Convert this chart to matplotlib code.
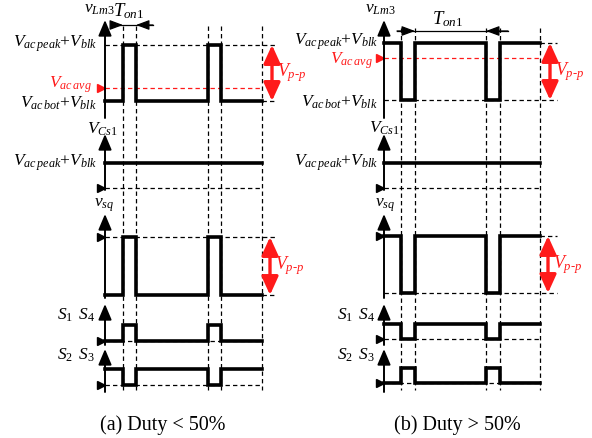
import matplotlib
matplotlib.use("Agg")
import matplotlib.pyplot as plt

plt.rcParams['font.family'] = ['Liberation Serif', 'DejaVu Serif']
plt.rcParams['mathtext.fontset'] = 'custom'
plt.rcParams['mathtext.rm'] = 'Liberation Serif'
plt.rcParams['mathtext.it'] = 'Liberation Serif:italic'

# switching instants (time from axis origin) and logic levels per segment
edges_a = [0, 18, 31, 103, 116, 157]
edges_b = [0, 17, 31, 102, 116, 156]
vlm3_a = [0, 1, 0, 1, 0]
vlm3_b = [1, 0, 1, 0, 1]
vsq_a = [0, 1, 0, 1, 0]
vsq_b = [1, 0, 1, 0, 1]
vcs1 = [1, 1, 1, 1, 1]
s14_a = [0, 1, 0, 1, 0]
s23_a = [1, 0, 1, 0, 1]
s14_b = [1, 0, 1, 0, 1]
s23_b = [0, 1, 0, 1, 0]
captions = ["(a) Duty < 50%", "(b) Duty > 50%"]

fig = plt.figure(figsize=(5.92, 4.38), dpi=100)
ax = fig.add_axes([0, 0, 1, 1])
ax.set_xlim(0, 592)
ax.set_ylim(438, 0)
ax.axis('off')

FS = 12.5
RED = '#ff1a1a'
DASH = dict(color='k', lw=0.9, ls=(0, (3.5, 2.5)))


def trace(x0, edges, levels, lo, hi):
    xs = [x0 + e for e in edges]
    ys = [lo - (lo - hi) * v for v in levels]
    ax.step(xs, ys + [ys[-1]], where='post', color='k', lw=2.6,
            solid_joinstyle='miter')


def yaxis(x0, top, bottom):
    ax.annotate('', xy=(x0, top), xytext=(x0, bottom),
                arrowprops=dict(arrowstyle='-|>,head_length=0.95,head_width=0.4',
                                color='k', lw=1.4, shrinkA=0, shrinkB=0))


def marker(x, y, c='k'):
    ax.plot(x - 4, y, marker='>', ms=6, color=c, mec=c)


def pp_arrow(x, hi, lo, ylab):
    ax.annotate('', xy=(x, hi), xytext=(x, lo),
                arrowprops=dict(arrowstyle='<|-|>,head_length=1.1,head_width=0.5',
                                color=RED, lw=2.4, shrinkA=0, shrinkB=0))
    ax.text(x + 5, ylab, r'$V_{p\text{-}p}$', color=RED, fontsize=FS + 0.5,
            ha='left', va='center')


panels = [
    dict(x0=105, ed=edges_a, vlm3=vlm3_a, vsq=vsq_a, s14=s14_a, s23=s23_a,
         lm_hi=45, lm_lo=101, avg=88, avg_lab=85, sq_hi=237, sq_lo=295,
         s14_hi=325, s14_lo=341, s23_hi=369, s23_lo=385,
         dash_end=277, red_x=272, lab_x=97, cap_x=163, vtop=26,
         ton=(115, 153, 25), lm_lab=(99, 9), ton_lab=(129, 11),
         cs_lab=(102, 129), sq_lab=(114, 205), s_lab=(95, 315, 355)),
    dict(x0=384, ed=edges_b, vlm3=vlm3_b, vsq=vsq_b, s14=s14_b, s23=s23_b,
         lm_hi=43, lm_lo=100, avg=58, avg_lab=61, sq_hi=236, sq_lo=293,
         s14_hi=324, s14_lo=339, s23_hi=368, s23_lo=383,
         dash_end=557, red_x=550, lab_x=378, cap_x=457, vtop=28,
         ton=(397, 508, 31), lm_lab=(380, 9), ton_lab=(448, 19),
         cs_lab=(384, 128), sq_lab=(395, 205), s_lab=(375, 315, 355)),
]

for i, p in enumerate(panels):
    x0 = p['x0']
    ed = p['ed']
    xend = x0 + ed[-1]

    # vertical dashed guides at switching instants
    for e in ed[1:]:
        ax.plot([x0 + e, x0 + e], [p['vtop'], 390], **DASH)

    # ---- v_Lm3 ----
    yaxis(x0, 20, 118)
    if i == 0:
        ax.plot([x0, p['dash_end']], [p['lm_hi'], p['lm_hi']], **DASH)
        ax.plot([xend, p['dash_end']], [p['lm_lo'], p['lm_lo']], **DASH)
    else:
        ax.plot([xend, p['dash_end']], [p['lm_hi'], p['lm_hi']], **DASH)
        ax.plot([x0, p['dash_end']], [p['lm_lo'], p['lm_lo']], **DASH)
    ax.plot([x0, xend], [p['avg'], p['avg']], color=RED, lw=0.9, ls=(0, (3.5, 2.5)))
    trace(x0, ed, p['vlm3'], p['lm_lo'], p['lm_hi'])
    marker(x0, p['avg'], RED)
    pp_arrow(p['red_x'], p['lm_hi'], p['lm_lo'], (p['lm_hi'] + p['lm_lo']) / 2)
    ax.text(p['lab_x'], p['lm_hi'] - 1, r'$V_{ac\,peak}$+$V_{blk}$', fontsize=FS,
            ha='right', va='center')
    ax.text(p['lab_x'] - 5, p['avg_lab'], r'$V_{ac\,avg}$', fontsize=FS, color=RED,
            ha='right', va='center')
    ax.text(p['lab_x'], p['lm_lo'] + 2, r'$V_{ac\,bot}$+$V_{blk}$', fontsize=FS,
            ha='right', va='center')
    ax.text(p['lm_lab'][0], p['lm_lab'][1], r'$v_{Lm3}$', fontsize=FS,
            ha='center', va='center')
    ax.text(p['ton_lab'][0], p['ton_lab'][1], r'$T_{on1}$', fontsize=FS + 1,
            ha='center', va='center')

    # T_on1 dimension arrows
    tl, tr, ty = p['ton']
    ax.plot([tl, tr], [ty, ty], color='k', lw=0.9)
    if i == 0:
        a1, a2 = x0 + ed[1], x0 + ed[2]
    else:
        a1, a2 = x0 + ed[2], x0 + ed[3]
    for tip, start in [(a1, tl), (a2, tr)]:
        ax.annotate('', xy=(tip, ty), xytext=(start, ty),
                    arrowprops=dict(arrowstyle='-|>,head_length=0.8,head_width=0.3',
                                    color='k', lw=0.9, shrinkA=0, shrinkB=0))

    # ---- V_Cs1 ----
    yaxis(x0, 134, 190)
    ax.plot([x0, xend], [188, 188], **DASH)
    trace(x0, ed, vcs1, 188, 163)
    marker(x0, 188)
    ax.text(p['lab_x'], 163, r'$V_{ac\,peak}$+$V_{blk}$', fontsize=FS,
            ha='right', va='center')
    ax.text(p['cs_lab'][0], p['cs_lab'][1], r'$V_{Cs1}$', fontsize=FS,
            ha='center', va='center')

    # ---- v_sq ----
    yaxis(x0, 214, 298)
    if i == 0:
        ax.plot([x0, p['dash_end']], [p['sq_hi'], p['sq_hi']], **DASH)
        ax.plot([xend, p['dash_end']], [p['sq_lo'], p['sq_lo']], **DASH)
    else:
        ax.plot([xend, p['dash_end']], [p['sq_hi'], p['sq_hi']], **DASH)
        ax.plot([x0, p['dash_end']], [p['sq_lo'], p['sq_lo']], **DASH)
    trace(x0, ed, p['vsq'], p['sq_lo'], p['sq_hi'])
    marker(x0, p['sq_hi'])
    pp_arrow(p['red_x'] - 2, p['sq_hi'], p['sq_lo'], (p['sq_hi'] + p['sq_lo']) / 2)
    ax.text(p['sq_lab'][0], p['sq_lab'][1], r'$v_{sq}$', fontsize=FS,
            ha='right', va='center')

    # ---- S1 S4 ----
    yaxis(x0, 304, 345)
    ax.plot([x0, xend], [p['s14_lo'], p['s14_lo']], **DASH)
    trace(x0, ed, p['s14'], p['s14_lo'], p['s14_hi'])
    marker(x0, p['s14_lo'])
    ax.text(p['s_lab'][0], p['s_lab'][1], r'$S_1\ \,S_4$', fontsize=FS,
            ha='right', va='center')

    # ---- S2 S3 ----
    yaxis(x0, 349, 392)
    ax.plot([x0, xend], [p['s23_lo'], p['s23_lo']], **DASH)
    trace(x0, ed, p['s23'], p['s23_lo'], p['s23_hi'])
    marker(x0, p['s23_lo'])
    ax.text(p['s_lab'][0], p['s_lab'][2], r'$S_2\ \,S_3$', fontsize=FS,
            ha='right', va='center')

    ax.text(p['cap_x'], 425, captions[i], fontsize=FS + 2, ha='center', va='center')

fig.savefig('out.png', dpi=100)
